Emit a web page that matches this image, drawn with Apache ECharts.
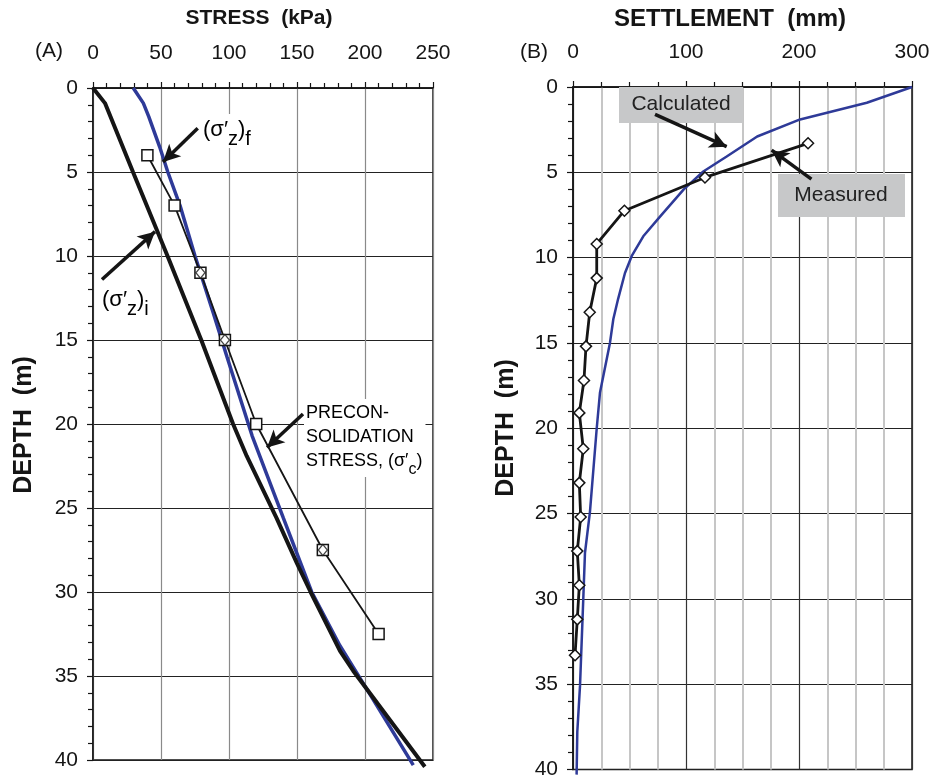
<!DOCTYPE html>
<html>
<head>
<meta charset="utf-8">
<script src="https://cdn.jsdelivr.net/npm/echarts@6/dist/echarts.min.js"></script>
<style>
html,body{margin:0;padding:0;background:#fff;}
#chart{width:933px;height:780px;}
</style>
</head>
<body>
<div id="chart"></div>
<script>
// ---------- Panel A: stress (kPa) vs depth (m) ----------
const stressTicks = [0, 50, 100, 150, 200, 250];
const depthTicks = [0, 5, 10, 15, 20, 25, 30, 35, 40];

// (σ'z)i  initial effective stress (thick black)
const initDepth  = [0, 0.9, 5, 10, 15, 20, 21.9, 25.6, 28.3, 30, 33.5, 34.7, 40.4];
const initStress = [0, 8.8, 29.4, 54.8, 79.6, 103, 113, 135, 150, 160, 181.6, 191.4, 244];

// (σ'z)f  final effective stress (blue)
const finDepth  = [0, 0.9, 1.7, 3.5, 5, 7, 10, 13.4, 16, 20.7, 25.6, 30, 33.2, 36, 40.3];
const finStress = [29.6, 37, 41, 49, 55, 64, 75, 88.5, 98.5, 117, 140, 160.8, 181.6, 203, 235.5];

// preconsolidation stress (σ'c)  (thin black, squares)
const preDepth  = [4, 7, 11, 15, 20, 27.5, 32.5];
const preStress = [40, 60, 79, 97, 120, 169, 210];
const preDiamondIdx = [2, 3, 5];

// ---------- Panel B: settlement (mm) vs depth (m) ----------
const settleTicks = [0, 100, 200, 300];
const calcDepth  = [0, 0.92, 1.9, 2.9, 4.07, 4.95, 6.0, 7.6, 8.75, 9.9, 10.9, 12.4, 13.6, 15, 17.9, 20, 24.9, 27.3, 30, 35.1, 37.8, 40.3];
const calcSettle = [300, 260, 201, 163, 136, 115.3, 98, 77, 62.2, 52, 46, 40, 35.7, 32.7, 23.9, 21, 15, 10.6, 9.1, 6.2, 3.8, 3.2];

const measDepth  = [3.3, 5.3, 7.25, 9.2, 11.2, 13.2, 15.2, 17.2, 19.1, 21.2, 23.2, 25.2, 27.2, 29.2, 31.2, 33.3];
const measSettle = [208, 116.8, 45.5, 21, 21, 14.8, 11.5, 9.7, 5.6, 9.1, 5.6, 6.8, 3.8, 5.6, 3.8, 1.8];

const zip = (xs, ys) => xs.map((x, i) => [x, ys[i]]);
const FONT = 'Liberation Sans, Arial, Helvetica, sans-serif';
const BLUE = '#2e3a98';
const INK = '#151515';

function xAxisCfg(gi, max, interval, minorSplit, splitNumber, gridColor, gridWidth) {
  return {
    gridIndex: gi, type: 'value', position: 'top', min: 0, max: max, interval: interval,
    axisLine: { show: true, onZero: false, lineStyle: { color: INK, width: 1.5 } },
    axisTick: { show: true, length: 6, inside: false, lineStyle: { color: INK, width: 1.2 } },
    minorTick: { show: true, splitNumber: splitNumber, length: 5, lineStyle: { color: INK, width: 1.2 } },
    axisLabel: { fontSize: 21, color: INK, margin: 24, fontFamily: FONT },
    splitLine: { show: true, lineStyle: { color: gridColor, width: gridWidth } },
    minorSplitLine: { show: minorSplit, lineStyle: { color: '#c6c6c6', width: 2 } }
  };
}
function yAxisCfg(gi) {
  return {
    gridIndex: gi, type: 'value', inverse: true, min: 0, max: 40, interval: 5,
    axisLine: { show: true, onZero: false, lineStyle: { color: INK, width: 1.5 } },
    axisTick: { show: true, length: 6, inside: false, lineStyle: { color: INK, width: 1.2 } },
    minorTick: { show: true, splitNumber: 5, length: 5, lineStyle: { color: INK, width: 1.2 } },
    axisLabel: { fontSize: 21, color: INK, margin: 15, fontFamily: FONT },
    splitLine: { show: true, lineStyle: { color: '#222', width: 1.2 } }
  };
}

const subRich = {
  m: { fontSize: 22, fontFamily: FONT, color: INK, lineHeight: 28 },
  s: { fontSize: 20, fontFamily: FONT, color: INK, lineHeight: 20, verticalAlign: 'bottom', padding: [0, 0, -5, 0] }
};
const preRich = {
  m: { fontSize: 18, fontFamily: FONT, color: INK, lineHeight: 24 },
  s: { fontSize: 16, fontFamily: FONT, color: INK, lineHeight: 16, verticalAlign: 'bottom', padding: [0, 0, -5, 0] }
};

const arrowStyle = { color: INK, width: 3.5, type: 'solid' };
function arrow(x1, y1, x2, y2) {
  return [{ coord: [x1, y1], symbol: 'none' }, { coord: [x2, y2], symbol: 'arrow' }];
}

const option = {
  animation: false,
  backgroundColor: '#fff',
  textStyle: { fontFamily: FONT },
  grid: [
    { left: 93, top: 88, width: 340, height: 672, show: true, borderColor: INK, borderWidth: 1.5, backgroundColor: 'transparent' },
    { left: 573, top: 87, width: 339, height: 684, show: true, borderColor: INK, borderWidth: 1.5, backgroundColor: 'transparent' }
  ],
  xAxis: [
    xAxisCfg(0, stressTicks[stressTicks.length - 1], stressTicks[1] - stressTicks[0], false, 5, '#8a8a8a', 1.2),
    xAxisCfg(1, settleTicks[settleTicks.length - 1], settleTicks[1] - settleTicks[0], true, 4, '#333', 1.2)
  ],
  yAxis: [yAxisCfg(0), yAxisCfg(1)],
  series: [
    { type: 'line', xAxisIndex: 0, yAxisIndex: 0, data: zip(finStress, finDepth), symbol: 'none', clip: false,
      lineStyle: { color: BLUE, width: 3.5 }, z: 2 },
    { type: 'line', xAxisIndex: 0, yAxisIndex: 0, data: zip(initStress, initDepth), symbol: 'none', clip: false,
      lineStyle: { color: INK, width: 4 }, z: 3 },
    { type: 'line', xAxisIndex: 0, yAxisIndex: 0, data: zip(preStress, preDepth), symbol: 'rect', symbolSize: 11,
      itemStyle: { color: '#fff', borderColor: INK, borderWidth: 1.5 }, lineStyle: { color: INK, width: 1.8 }, z: 4,
      markLine: { silent: true, symbolSize: [13, 17], lineStyle: arrowStyle, label: { show: false },
        data: [arrow(77, 2.4, 51.5, 4.4), arrow(6.6, 11.4, 45.6, 8.55), arrow(154.4, 19.4, 128, 21.4)] } },
    { type: 'scatter', xAxisIndex: 0, yAxisIndex: 0, data: preDiamondIdx.map(i => [preStress[i], preDepth[i]]),
      symbol: 'diamond', symbolSize: [9, 11], itemStyle: { color: '#fff', borderColor: INK, borderWidth: 1.3 }, z: 5 },

    { type: 'line', xAxisIndex: 1, yAxisIndex: 1, data: zip(calcSettle, calcDepth), symbol: 'none', clip: false,
      lineStyle: { color: BLUE, width: 2.5 }, z: 2 },
    { type: 'line', xAxisIndex: 1, yAxisIndex: 1, data: zip(measSettle, measDepth), symbol: 'diamond', symbolSize: [11, 11],
      itemStyle: { color: '#fff', borderColor: INK, borderWidth: 1.5 }, lineStyle: { color: INK, width: 2.8 }, z: 4,
      markLine: { silent: true, symbolSize: [13, 17], lineStyle: arrowStyle, label: { show: false },
        data: [arrow(72.6, 1.6, 136, 3.5), arrow(211, 5.4, 175.8, 3.7)] } }
  ],
  graphic: [
    { type: 'text', x: 259, y: 18, z: 100, style: { text: 'STRESS  (kPa)', font: 'bold 21px ' + FONT, fill: INK, align: 'center', verticalAlign: 'middle' } },
    { type: 'text', x: 730, y: 19, z: 100, style: { text: 'SETTLEMENT  (mm)', font: 'bold 24px ' + FONT, fill: INK, align: 'center', verticalAlign: 'middle' } },
    { type: 'text', x: 49, y: 51, z: 100, style: { text: '(A)', font: '21px ' + FONT, fill: INK, align: 'center', verticalAlign: 'middle' } },
    { type: 'text', x: 534, y: 52, z: 100, style: { text: '(B)', font: '21px ' + FONT, fill: INK, align: 'center', verticalAlign: 'middle' } },
    { type: 'text', x: 24, y: 425, rotation: Math.PI / 2, z: 100, style: { text: 'DEPTH  (m)', font: 'bold 25px ' + FONT, fill: INK, align: 'center', verticalAlign: 'middle' } },
    { type: 'text', x: 506, y: 428, rotation: Math.PI / 2, z: 100, style: { text: 'DEPTH  (m)', font: 'bold 25px ' + FONT, fill: INK, align: 'center', verticalAlign: 'middle' } },

    { type: 'text', x: 201, y: 131, z: 100, style: { text: '{m|(σ′}{s|z}{m|)}{s|f}', rich: subRich, align: 'left', verticalAlign: 'middle', backgroundColor: '#fff', padding: [2, 2, 4, 2] } },
    { type: 'text', x: 100, y: 301, z: 100, style: { text: '{m|(σ′}{s|z}{m|)}{s|i}', rich: subRich, align: 'left', verticalAlign: 'middle', backgroundColor: '#fff', padding: [2, 2, 4, 2] } },
    { type: 'text', x: 304, y: 399, z: 100, style: { text: '{m|PRECON-}\n{m|SOLIDATION}\n{m|STRESS, (σ′}{s|c}{m|)}', rich: preRich, align: 'left', verticalAlign: 'top', backgroundColor: '#fff', padding: [2, 3, 4, 2] } },

    { type: 'rect', z: 1, shape: { x: 619, y: 87, width: 124, height: 36 }, style: { fill: '#c7c8c9' } },
    { type: 'text', x: 681, y: 104, z: 100, style: { text: 'Calculated', font: '21px ' + FONT, fill: '#222', align: 'center', verticalAlign: 'middle' } },
    { type: 'rect', z: 1, shape: { x: 778, y: 174, width: 127, height: 43 }, style: { fill: '#c7c8c9' } },
    { type: 'text', x: 841, y: 195, z: 100, style: { text: 'Measured', font: '21px ' + FONT, fill: '#222', align: 'center', verticalAlign: 'middle' } }
  ]
};

const chart = echarts.init(document.getElementById('chart'), null, { renderer: 'canvas' });
chart.setOption(option);
</script>
</body>
</html>
